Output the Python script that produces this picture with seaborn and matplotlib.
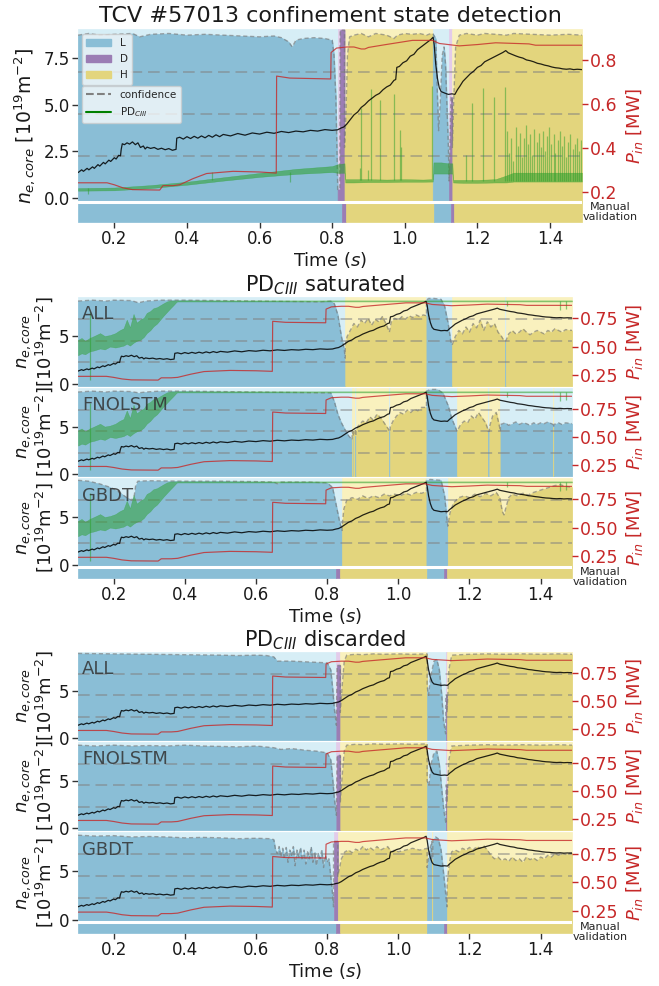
import numpy as np
import pandas as pd
import matplotlib
matplotlib.use("Agg")
import matplotlib.pyplot as plt
import seaborn as sns
from matplotlib.patches import Patch
from matplotlib.lines import Line2D

# ---------------- data ----------------
xticks = [0.2, 0.4, 0.6, 0.8, 1.0, 1.2, 1.4]
model_names = ["ALL", "FNOLSTM", "GBDT"]

ne_t = [0.100, 0.110, 0.115, 0.125, 0.130, 0.140, 0.145, 0.155, 0.160, 0.170, 0.175, 0.185, 0.190, 0.200,
        0.205, 0.212, 0.217, 0.219, 0.222, 0.228, 0.235, 0.242, 0.250, 0.258, 0.265, 0.272, 0.280, 0.285,
        0.290, 0.300, 0.310, 0.320, 0.330, 0.340, 0.350, 0.360, 0.370, 0.372, 0.380, 0.390, 0.400, 0.410,
        0.420, 0.430, 0.440, 0.450, 0.460, 0.470, 0.480, 0.490, 0.500, 0.520, 0.540, 0.560, 0.580, 0.600,
        0.620, 0.640, 0.660, 0.680, 0.700, 0.720, 0.740, 0.760, 0.780, 0.800, 0.815, 0.825, 0.832, 0.840,
        0.850, 0.860, 0.870, 0.880, 0.890, 0.900, 0.910, 0.920, 0.930, 0.940, 0.950, 0.960, 0.970, 0.975,
        0.978, 0.985, 0.995, 1.005, 1.015, 1.025, 1.035, 1.045, 1.055, 1.065, 1.072, 1.078, 1.081, 1.085,
        1.090, 1.095, 1.100, 1.110, 1.120, 1.130, 1.138, 1.145, 1.152, 1.160, 1.170, 1.180, 1.190, 1.200,
        1.210, 1.220, 1.230, 1.240, 1.250, 1.260, 1.270, 1.278, 1.285, 1.295, 1.305, 1.315, 1.325, 1.335,
        1.345, 1.355, 1.365, 1.375, 1.385, 1.395, 1.405, 1.415, 1.425, 1.435, 1.445, 1.455, 1.465, 1.475,
        1.488]
ne_v = [1.35, 1.50, 1.42, 1.58, 1.50, 1.66, 1.58, 1.78, 1.70, 1.90, 1.82, 2.02, 1.95, 2.15,
        2.08, 2.28, 2.25, 2.60, 2.90, 2.85, 2.95, 2.88, 3.00, 2.85, 2.95, 2.70, 2.78, 2.62,
        2.72, 2.65, 2.70, 2.60, 2.66, 2.58, 2.64, 2.55, 2.60, 3.20, 3.25, 3.15, 3.28, 3.18,
        3.30, 3.20, 3.32, 3.22, 3.35, 3.25, 3.38, 3.28, 3.40, 3.32, 3.45, 3.36, 3.48, 3.42,
        3.52, 3.46, 3.56, 3.50, 3.58, 3.54, 3.62, 3.58, 3.66, 3.62, 3.65, 3.75, 3.80, 3.95,
        4.20, 4.45, 4.60, 4.85, 5.00, 5.20, 5.35, 5.50, 5.60, 5.80, 5.95, 6.05, 6.30, 6.35,
        7.00, 7.05, 7.25, 7.35, 7.60, 7.70, 7.95, 8.10, 8.25, 8.40, 8.50, 8.62, 8.20, 7.20,
        6.40, 5.90, 5.70, 5.62, 5.55, 5.58, 5.55, 5.80, 6.00, 6.25, 6.45, 6.65, 6.80, 7.00,
        7.10, 7.30, 7.40, 7.50, 7.60, 7.70, 7.80, 7.90, 7.78, 7.70, 7.62, 7.55, 7.50, 7.40,
        7.36, 7.30, 7.22, 7.18, 7.12, 7.08, 7.02, 6.98, 6.96, 6.92, 6.90, 6.92, 6.88, 6.90,
        6.88]

pin_t = [0.100, 0.180, 0.200, 0.224, 0.250, 0.325, 0.334, 0.362, 0.380, 0.417, 0.454, 0.527, 0.600, 0.646,
         0.647, 0.683, 0.796, 0.797, 0.812, 0.840, 0.860, 0.880, 0.890, 0.900, 0.948, 1.021, 1.076, 1.095,
         1.150, 1.200, 1.250, 1.342, 1.360, 1.488]
pin_v = [0.241, 0.241, 0.232, 0.218, 0.210, 0.208, 0.228, 0.228, 0.232, 0.260, 0.283, 0.293, 0.290, 0.285,
         0.725, 0.716, 0.712, 0.832, 0.852, 0.857, 0.857, 0.848, 0.848, 0.855, 0.868, 0.887, 0.887, 0.873,
         0.862, 0.868, 0.876, 0.871, 0.865, 0.865]

# PD_CIII (normal), band edges and spikes (in n_e axis units)
pd_band_t = [0.100, 0.200, 0.300, 0.400, 0.500, 0.600, 0.700, 0.800, 0.815, 0.834, 0.836, 0.860, 0.900,
             0.950, 1.000, 1.050, 1.077, 1.079, 1.100, 1.120, 1.131, 1.133, 1.160, 1.200, 1.250, 1.280,
             1.300, 1.350, 1.400, 1.450, 1.488]
pd_band_lo = [0.38, 0.40, 0.52, 0.70, 0.92, 1.12, 1.28, 1.38, 1.34, 1.34, 0.82, 0.82, 0.84,
              0.84, 0.86, 0.86, 0.87, 1.30, 1.30, 1.30, 1.30, 0.82, 0.80, 0.80, 0.82, 0.82,
              0.87, 0.87, 0.87, 0.87, 0.87]
pd_band_hi = [0.52, 0.55, 0.68, 0.86, 1.10, 1.33, 1.55, 1.70, 1.80, 1.85, 1.00, 1.00, 1.00,
              0.98, 1.00, 0.98, 1.00, 1.90, 1.90, 1.85, 1.85, 0.96, 0.96, 0.96, 1.00, 1.20,
              1.35, 1.35, 1.35, 1.35, 1.35]
pd_spike_t = [0.128, 0.470, 0.683, 0.876, 0.878, 0.900, 0.907, 0.933, 0.970, 0.987, 0.990, 1.076,
              1.168, 1.186, 1.214, 1.245, 1.276,
              1.282, 1.288, 1.293, 1.299, 1.305, 1.311, 1.317, 1.322, 1.328, 1.334, 1.340, 1.346,
              1.351, 1.357, 1.363, 1.369, 1.375, 1.381, 1.386, 1.392, 1.398, 1.404, 1.410, 1.415,
              1.421, 1.427, 1.433, 1.439, 1.444, 1.450, 1.456, 1.462, 1.468, 1.474, 1.480, 1.486]
pd_spike_lo = [0.20, 0.95, 0.87, 0.95, 0.95, 0.95, 0.95, 0.95, 0.95, 0.95, 0.95, 1.00,
               0.90, 0.90, 0.90, 0.90, 0.90,
               0.90, 0.90, 0.90, 0.90, 0.90, 0.90, 0.90, 0.90, 0.90, 0.90, 0.90, 0.90,
               0.90, 0.90, 0.90, 0.90, 0.90, 0.90, 0.90, 0.90, 0.90, 0.90, 0.90, 0.90,
               0.90, 0.90, 0.90, 0.90, 0.90, 0.90, 0.90, 0.90, 0.90, 0.90, 0.90, 0.90]
pd_spike_hi = [0.50, 1.40, 1.40, 1.60, 4.80, 1.50, 5.85, 5.23, 5.59, 3.64, 2.75, 6.00,
               2.30, 5.07, 5.89, 5.43, 5.96,
               3.60, 2.40, 3.20, 2.00, 3.80, 2.80, 3.50, 2.20, 3.20, 3.90, 2.90, 3.40,
               2.30, 3.70, 3.00, 3.50, 2.70, 3.60, 2.50, 3.30, 3.80, 2.90, 3.40, 2.40,
               3.10, 3.60, 2.80, 3.30, 2.20, 3.00, 3.40, 2.60, 2.90, 3.20, 2.50, 3.10]

# PD_CIII saturated
pds_t = [0.100, 0.110, 0.120, 0.133, 0.145, 0.162, 0.175, 0.190, 0.205, 0.217, 0.228, 0.237, 0.246,
         0.256, 0.265, 0.275, 0.285, 0.293, 0.303, 0.312, 0.322, 0.331, 0.340, 0.350, 0.360, 0.368,
         0.377, 0.380, 1.488]
pds_lo = [3.0, 3.2, 3.1, 3.4, 3.5, 3.7, 3.6, 3.9, 3.8, 3.9, 4.0, 4.2, 4.0,
          4.3, 4.5, 4.6, 4.9, 5.3, 5.6, 6.0, 6.3, 6.7, 7.1, 7.5, 7.9, 8.2,
          8.57, 8.59, 8.59]
pds_hi = [4.6, 4.8, 4.5, 4.8, 5.0, 5.3, 5.0, 5.1, 5.3, 5.6, 5.8, 6.7, 5.9,
          7.3, 6.4, 6.7, 6.9, 7.4, 7.6, 7.9, 8.0, 8.2, 8.4, 8.6, 8.7, 8.7,
          8.71, 8.71, 8.71]
pds_spike_t = [0.133, 1.306, 1.454, 1.471]
pds_spike_lo = [0.40, 8.10, 7.70, 7.80]
pds_spike_hi = [7.50, 8.65, 8.65, 8.65]

# manual validation labels
man_edges = [0.100, 0.826, 0.837, 1.080, 1.127, 1.136, 1.488]
man_states = ["L", "D", "H", "L", "D", "H"]

# confidence per panel (time, confidence, predicted state)
top_t = [0.10, 0.13, 0.16, 0.20, 0.25, 0.27, 0.30, 0.35, 0.40, 0.45, 0.50, 0.55, 0.60, 0.64, 0.66, 0.68,
         0.69, 0.70, 0.72, 0.75, 0.78, 0.80, 0.805, 0.81, 0.813, 0.815,
         0.815, 0.821, 0.822, 0.834,
         0.834, 0.838, 0.842, 0.848, 0.86, 0.88, 0.90, 0.92, 0.95, 0.97, 0.98, 1.00, 1.02, 1.04, 1.06, 1.072, 1.077,
         1.077, 1.085, 1.09, 1.093, 1.097, 1.103, 1.108, 1.112, 1.116, 1.12, 1.122,
         1.122, 1.127, 1.131,
         1.131, 1.135, 1.14, 1.15, 1.17, 1.20, 1.22, 1.25, 1.28, 1.30, 1.35, 1.40, 1.45, 1.488]
top_c = [0.97, 0.98, 0.97, 0.975, 0.98, 0.96, 0.975, 0.98, 0.97, 0.975, 0.97, 0.965, 0.96, 0.965, 0.955, 0.93,
         0.90, 0.94, 0.95, 0.955, 0.95, 0.94, 0.85, 0.60, 0.30, 0.08,
         0.05, 0.05, 1.0, 1.0,
         0.30, 0.50, 0.85, 0.96, 0.97, 0.98, 0.96, 0.98, 0.97, 0.95, 0.97, 0.98, 0.975, 0.98, 0.97, 0.98, 0.98,
         0.98, 0.95, 0.60, 0.40, 0.55, 0.85, 0.90, 0.80, 0.55, 0.30, 0.10,
         0.10, 0.60, 0.60,
         0.30, 0.60, 0.90, 0.97, 0.98, 0.97, 0.98, 0.975, 0.97, 0.98, 0.975, 0.97, 0.975, 0.97]
top_s = ["L"] * 26 + ["D"] * 4 + ["H"] * 17 + ["L"] * 11 + ["D"] * 3 + ["H"] * 14

sa_t = [0.10, 0.14, 0.18, 0.20, 0.25, 0.27, 0.29, 0.33, 0.40, 0.50, 0.60, 0.70, 0.78, 0.81, 0.82, 0.83,
        0.84, 0.848, 0.851,
        0.851, 0.856, 0.865, 0.875, 0.885, 0.895, 0.905, 0.915, 0.925, 0.935, 0.945, 0.955, 0.965, 0.975,
        0.98, 0.99, 1.00, 1.01, 1.02, 1.03, 1.04, 1.05, 1.06, 1.07, 1.079,
        1.079, 1.085, 1.10, 1.12, 1.13, 1.14, 1.147, 1.151,
        1.151, 1.16, 1.17, 1.18, 1.19, 1.20, 1.21, 1.22, 1.23, 1.24, 1.25, 1.26, 1.27, 1.28, 1.29, 1.297, 1.299,
        1.299, 1.302,
        1.302, 1.31, 1.32, 1.33, 1.34, 1.35, 1.36, 1.37, 1.38, 1.39, 1.40, 1.41, 1.42, 1.43, 1.44, 1.45,
        1.46, 1.47, 1.488]
sa_c = [0.96, 0.97, 0.96, 0.97, 0.965, 0.94, 0.96, 0.97, 0.97, 0.965, 0.96, 0.955, 0.95, 0.96, 0.93, 0.80,
        0.55, 0.40, 0.30,
        0.45, 0.55, 0.62, 0.70, 0.66, 0.74, 0.70, 0.76, 0.68, 0.75, 0.72, 0.78, 0.70, 0.60,
        0.72, 0.76, 0.74, 0.78, 0.75, 0.79, 0.77, 0.80, 0.78, 0.80, 0.79,
        0.97, 0.99, 0.99, 0.98, 0.90, 0.70, 0.50, 0.45,
        0.45, 0.55, 0.62, 0.58, 0.66, 0.60, 0.70, 0.65, 0.74, 0.62, 0.72, 0.66, 0.70, 0.60, 0.55, 0.50, 0.50,
        0.50, 0.50,
        0.50, 0.58, 0.62, 0.58, 0.60, 0.64, 0.60, 0.57, 0.60, 0.62, 0.60, 0.58, 0.62, 0.60, 0.64, 0.62,
        0.60, 0.63, 0.62]
sa_s = ["L"] * 19 + ["H"] * 25 + ["L"] * 8 + ["H"] * 17 + ["L"] * 2 + ["H"] * 19

sf_t = [0.10, 0.14, 0.18, 0.20, 0.25, 0.27, 0.29, 0.33, 0.40, 0.50, 0.60, 0.70, 0.78, 0.81, 0.82, 0.83,
        0.84, 0.85, 0.86, 0.87,
        0.87, 0.872,
        0.872, 0.874,
        0.874, 0.879,
        0.879, 0.881,
        0.881, 0.89, 0.90, 0.91, 0.92, 0.93, 0.94, 0.95, 0.96, 0.968, 0.973,
        0.973, 0.977,
        0.977, 0.985, 0.995, 1.005, 1.015, 1.025, 1.035, 1.045, 1.055, 1.065, 1.079,
        1.079, 1.09, 1.11, 1.125, 1.14, 1.15, 1.16, 1.165,
        1.165, 1.175, 1.185, 1.195, 1.205, 1.215, 1.225, 1.235, 1.245, 1.252,
        1.252, 1.256,
        1.256, 1.265, 1.275, 1.282, 1.287,
        1.287, 1.30, 1.31, 1.32, 1.33, 1.34, 1.35, 1.36, 1.37, 1.38, 1.39, 1.40, 1.41, 1.42, 1.435,
        1.435, 1.437,
        1.437, 1.45, 1.46, 1.47, 1.488]
sf_c = [0.96, 0.97, 0.96, 0.97, 0.965, 0.95, 0.96, 0.97, 0.97, 0.965, 0.96, 0.955, 0.95, 0.95, 0.85, 0.70,
        0.60, 0.52, 0.45, 0.40,
        0.50, 0.50,
        0.45, 0.45,
        0.50, 0.52,
        0.45, 0.45,
        0.52, 0.58, 0.62, 0.60, 0.67, 0.63, 0.70, 0.66, 0.60, 0.55, 0.52,
        0.50, 0.50,
        0.55, 0.62, 0.68, 0.72, 0.70, 0.75, 0.72, 0.76, 0.74, 0.78, 0.78,
        0.97, 0.99, 0.99, 0.95, 0.80, 0.65, 0.55, 0.50,
        0.50, 0.58, 0.62, 0.60, 0.68, 0.64, 0.72, 0.66, 0.60, 0.52,
        0.50, 0.50,
        0.55, 0.68, 0.72, 0.60, 0.50,
        0.58, 0.60, 0.57, 0.59, 0.61, 0.58, 0.60, 0.59, 0.57, 0.60, 0.58, 0.60, 0.59, 0.61, 0.58,
        0.55, 0.55,
        0.58, 0.60, 0.58, 0.60, 0.59]
sf_s = (["L"] * 20 + ["H"] * 2 + ["L"] * 2 + ["H"] * 2 + ["L"] * 2 + ["H"] * 11 + ["L"] * 2 + ["H"] * 11
        + ["L"] * 8 + ["H"] * 10 + ["L"] * 2 + ["H"] * 5 + ["L"] * 15 + ["H"] * 2 + ["L"] * 5)

sg_t = [0.10, 0.13, 0.16, 0.19, 0.21, 0.237, 0.25, 0.258, 0.262, 0.268, 0.30, 0.40, 0.50, 0.60, 0.65,
        0.66, 0.67, 0.75, 0.80, 0.815, 0.825, 0.835, 0.842,
        0.842, 0.847, 0.855, 0.87, 0.885, 0.90, 0.915, 0.93, 0.945, 0.96, 0.975, 0.99, 1.005, 1.02, 1.035,
        1.05, 1.065, 1.079,
        1.079, 1.09, 1.12, 1.13, 1.136, 1.139,
        1.139, 1.145, 1.155, 1.17, 1.185, 1.20, 1.215, 1.23, 1.245, 1.26, 1.275, 1.285, 1.292, 1.297,
        1.302, 1.31, 1.32, 1.335, 1.35, 1.365, 1.38, 1.395, 1.41, 1.425, 1.44, 1.455, 1.47, 1.488]
sg_c = [0.98, 0.97, 0.94, 0.90, 0.86, 0.78, 0.75, 0.80, 0.92, 0.97, 0.975, 0.97, 0.97, 0.965, 0.96,
        0.94, 0.96, 0.96, 0.95, 0.90, 0.70, 0.50, 0.40,
        0.45, 0.65, 0.75, 0.78, 0.76, 0.80, 0.77, 0.80, 0.78, 0.82, 0.80, 0.82, 0.80, 0.83, 0.81,
        0.84, 0.83, 0.85,
        0.98, 0.99, 0.98, 0.80, 0.55, 0.45,
        0.45, 0.60, 0.72, 0.78, 0.80, 0.78, 0.82, 0.79, 0.83, 0.80, 0.84, 0.78, 0.62, 0.58,
        0.66, 0.78, 0.82, 0.80, 0.83, 0.81, 0.84, 0.86, 0.88, 0.90, 0.92, 0.93, 0.91, 0.90]
sg_s = ["L"] * 23 + ["H"] * 18 + ["L"] * 6 + ["H"] * 28

da_t = [0.10, 0.20, 0.30, 0.40, 0.50, 0.55, 0.60, 0.63, 0.65, 0.66, 0.70, 0.75, 0.80, 0.81, 0.815, 0.82,
        0.826,
        0.826, 0.828, 0.837,
        0.837, 0.842, 0.848, 0.855, 0.88, 0.90, 0.93, 0.96, 1.00, 1.04, 1.081,
        1.081, 1.085, 1.09, 1.10, 1.108, 1.115, 1.122, 1.127, 1.133,
        1.133, 1.137,
        1.137, 1.142, 1.15, 1.20, 1.25, 1.30, 1.35, 1.40, 1.45, 1.488]
da_c = [0.99, 0.985, 0.98, 0.975, 0.97, 0.965, 0.97, 0.965, 0.95, 0.90, 0.90, 0.89, 0.88, 0.80, 0.60, 0.35,
        0.15,
        0.20, 0.85, 0.85,
        0.30, 0.60, 0.90, 0.97, 0.98, 0.975, 0.985, 0.98, 0.985, 0.98, 0.985,
        0.60, 0.50, 0.70, 0.90, 0.92, 0.80, 0.50, 0.20, 0.05,
        0.50, 0.50,
        0.30, 0.80, 0.97, 0.98, 0.985, 0.98, 0.985, 0.98, 0.985, 0.98]
da_s = ["L"] * 17 + ["D"] * 3 + ["H"] * 11 + ["L"] * 9 + ["D"] * 2 + ["H"] * 10

df_t = [0.10, 0.15, 0.20, 0.25, 0.30, 0.35, 0.40, 0.45, 0.50, 0.55, 0.60, 0.65, 0.67, 0.70, 0.74, 0.77,
        0.80, 0.81, 0.815, 0.82, 0.826,
        0.826, 0.828, 0.837,
        0.837, 0.842, 0.848, 0.855, 0.88, 0.90, 0.93, 0.96, 1.00, 1.04, 1.081,
        1.081, 1.086, 1.092, 1.10, 1.108, 1.115, 1.122, 1.128, 1.134,
        1.134, 1.137,
        1.137, 1.142, 1.15, 1.20, 1.25, 1.30, 1.35, 1.40, 1.45, 1.488]
df_c = [0.97, 0.96, 0.97, 0.96, 0.965, 0.96, 0.97, 0.96, 0.955, 0.95, 0.96, 0.94, 0.92, 0.93, 0.91, 0.90,
        0.88, 0.80, 0.60, 0.35, 0.15,
        0.20, 0.85, 0.85,
        0.30, 0.60, 0.90, 0.97, 0.98, 0.975, 0.985, 0.98, 0.985, 0.98, 0.985,
        0.55, 0.50, 0.75, 0.88, 0.90, 0.75, 0.45, 0.20, 0.05,
        0.50, 0.50,
        0.30, 0.80, 0.96, 0.97, 0.975, 0.97, 0.975, 0.97, 0.975, 0.97]
df_s = ["L"] * 21 + ["D"] * 3 + ["H"] * 11 + ["L"] * 9 + ["D"] * 2 + ["H"] * 10

dg_t = [0.10, 0.15, 0.20, 0.25, 0.30, 0.35, 0.40, 0.45, 0.50, 0.55, 0.60, 0.64, 0.65, 0.655, 0.66, 0.665,
        0.67, 0.675, 0.68, 0.685, 0.69, 0.695, 0.70, 0.705, 0.71, 0.715, 0.72, 0.725, 0.73, 0.735, 0.74,
        0.745, 0.75, 0.755, 0.76, 0.765, 0.77, 0.775, 0.78, 0.785, 0.79, 0.795, 0.80, 0.805, 0.81, 0.815,
        0.818,
        0.818, 0.83,
        0.83, 0.84, 0.85, 0.86, 0.87, 0.88, 0.89, 0.90, 0.91, 0.92, 0.93, 0.94, 0.95, 0.96, 0.97, 0.98,
        0.99, 1.00, 1.02, 1.04, 1.06, 1.081,
        1.081, 1.088, 1.094,
        1.094, 1.097,
        1.097, 1.105, 1.112, 1.12, 1.128, 1.133, 1.137,
        1.137, 1.143, 1.15, 1.16, 1.17, 1.18, 1.19, 1.20, 1.21, 1.22, 1.23, 1.24, 1.25, 1.26, 1.27, 1.28,
        1.29, 1.30, 1.31, 1.32, 1.33, 1.34, 1.35, 1.36, 1.37, 1.38, 1.39, 1.40, 1.41, 1.42, 1.43, 1.44,
        1.45, 1.46, 1.47, 1.488]
dg_c = [0.97, 0.96, 0.965, 0.95, 0.955, 0.95, 0.94, 0.945, 0.94, 0.93, 0.935, 0.93, 0.92, 0.80, 0.76, 0.84,
        0.72, 0.82, 0.70, 0.83, 0.66, 0.80, 0.74, 0.84, 0.62, 0.80, 0.72, 0.83, 0.68, 0.80, 0.64,
        0.78, 0.70, 0.84, 0.66, 0.78, 0.62, 0.76, 0.70, 0.80, 0.60, 0.74, 0.66, 0.70, 0.50, 0.30,
        0.15,
        0.90, 0.90,
        0.50, 0.70, 0.78, 0.80, 0.77, 0.81, 0.79, 0.84, 0.80, 0.83, 0.80, 0.84, 0.80, 0.82, 0.84, 0.78,
        0.80, 0.78, 0.80, 0.82, 0.80, 0.82,
        0.60, 0.80, 0.90,
        0.70, 0.70,
        0.92, 0.95, 0.93, 0.80, 0.50, 0.30, 0.15,
        0.40, 0.65, 0.78, 0.80, 0.78, 0.82, 0.80, 0.83, 0.80, 0.84, 0.82, 0.85, 0.80, 0.74, 0.70, 0.72,
        0.68, 0.70, 0.67, 0.72, 0.68, 0.70, 0.66, 0.72, 0.69, 0.71, 0.68, 0.72, 0.70, 0.74, 0.72, 0.76,
        0.74, 0.76, 0.75, 0.77]
dg_s = ["L"] * 47 + ["D"] * 2 + ["H"] * 22 + ["L"] * 3 + ["H"] * 2 + ["L"] * 7 + ["H"] * 36

for _t, _c, _s in [(top_t, top_c, top_s), (sa_t, sa_c, sa_s), (sf_t, sf_c, sf_s), (sg_t, sg_c, sg_s),
                   (da_t, da_c, da_s), (df_t, df_c, df_s), (dg_t, dg_c, dg_s)]:
    assert len(_t) == len(_c) == len(_s), (len(_t), len(_c), len(_s))
assert len(ne_t) == len(ne_v) and len(pin_t) == len(pin_v)
assert len(pd_band_t) == len(pd_band_lo) == len(pd_band_hi)
assert len(pd_spike_t) == len(pd_spike_lo) == len(pd_spike_hi)
assert len(pds_t) == len(pds_lo) == len(pds_hi)

# ---------------- style ----------------
DARK = {"L": "#8ABED6", "D": "#9B7DB4", "H": "#E3D57D"}
LIGHT = {"L": "#D7EEF6", "D": "#E3CBEA", "H": "#F9F1BE"}
RED = "#C62828"
PDC = "#2CA02C"
CONF_SCALE = 9.0
YTOP = 9.06
XLIM = (0.1, 1.488)

sns.set_theme(style="white")
plt.rcParams["font.family"] = ["DejaVu Sans"]
plt.rcParams["mathtext.fontset"] = "dejavusans"

W, H = 659, 986
fig = plt.figure(figsize=(W / 100, H / 100), dpi=100)


def add_ax(l, r, t, b):
    return fig.add_axes([l / W, 1 - b / H, (r - l) / W, (b - t) / H])


def runs(states):
    out, i = [], 0
    while i < len(states):
        j = i
        while j + 1 < len(states) and states[j + 1] == states[i]:
            j += 1
        out.append((i, j, states[i]))
        i = j + 1
    return out


def draw_panel(ax, ct, cc, cs, ylo, strip, pd_mode, pin_ticks, label=None, xlabels=True, text_y=None):
    ct = np.asarray(ct)
    cc = np.asarray(cc) * CONF_SCALE
    base = -0.2 if strip else ylo
    rr = runs(cs)
    for i, j, st in rr:
        ax.fill_between(ct[i:j + 1], base, YTOP, color=LIGHT[st], edgecolor=LIGHT[st], lw=0.5, zorder=1)
    for i, j, st in rr:
        ax.fill_between(ct[i:j + 1], base, cc[i:j + 1], color=DARK[st], edgecolor=DARK[st], lw=0.5, zorder=2)
    ax.plot(ct, cc, ls=(0, (3, 2)), color="0.45", alpha=0.6, lw=1.0, zorder=3)
    for lvl in (0.25, 0.5, 0.75):
        ax.axhline(lvl * CONF_SCALE, color="0.5", alpha=0.5, ls=(0, (6, 3)), lw=1.4, zorder=3)
    if strip:
        for k, st in enumerate(man_states):
            ax.fill_between([man_edges[k], man_edges[k + 1]], ylo, -0.2, color=DARK[st],
                            edgecolor=DARK[st], lw=0.5, zorder=2)
        ax.axhline(-0.2, color="white", lw=2.2, zorder=6)
        ax.annotate("Manual\nvalidation", xy=(1.0, text_y), xycoords=("axes fraction", "data"),
                    xytext=(20, 0), textcoords="offset points", ha="center", va="center",
                    fontsize=8, color="0.15", annotation_clip=False, linespacing=1.0)
    # PD_CIII
    if pd_mode == "normal":
        ax.fill_between(pd_band_t, pd_band_lo, pd_band_hi, color=PDC, alpha=0.55, lw=0.3,
                        edgecolor=PDC, zorder=4)
        ax.vlines(pd_spike_t, pd_spike_lo, pd_spike_hi, color=PDC, alpha=0.5, lw=0.9, zorder=4)
    elif pd_mode == "sat":
        ax.fill_between(pds_t, pds_lo, pds_hi, color=PDC, alpha=0.5, lw=0.3,
                        edgecolor=PDC, zorder=4)
        ax.vlines(pds_spike_t, pds_spike_lo, pds_spike_hi, color=PDC, alpha=0.55, lw=0.9, zorder=4)
    # density
    dfn = pd.DataFrame({"t": ne_t, "ne": ne_v})
    sns.lineplot(data=dfn, x="t", y="ne", ax=ax, color="black", lw=0.9, alpha=0.85,
                 estimator=None, sort=False, zorder=5)
    ax.set_xlim(*XLIM)
    ax.set_ylim(ylo, YTOP)
    ax.set_xticks(xticks)
    for sp in ax.spines.values():
        sp.set_visible(False)
    ax.tick_params(axis="y", left=True, length=4, width=1, color="0.2", labelsize=12, pad=2,
                   labelcolor="0.1")
    if xlabels:
        ax.tick_params(axis="x", bottom=True, length=4, width=1, color="0.2", labelsize=12, pad=2,
                       labelcolor="0.1")
        ax.set_xticklabels([f"{v:.1f}" for v in xticks])
        ax.set_xlabel("Time ($s$)", fontsize=13, labelpad=1, color="0.1")
    else:
        ax.tick_params(axis="x", bottom=False, labelbottom=False)
        ax.set_xlabel("")
    if label:
        ax.text(0.008, 0.91, label, transform=ax.transAxes, fontsize=13, color="0.2", alpha=0.85,
                va="top", ha="left", zorder=7)
    # power
    axr = ax.twinx()
    dfp = pd.DataFrame({"t": pin_t, "p": pin_v})
    sns.lineplot(data=dfp, x="t", y="p", ax=axr, color=RED, lw=0.85, alpha=0.8,
                 estimator=None, sort=False)
    axr.set_ylim(0.173 + 0.0845 * ylo, 0.173 + 0.0845 * YTOP)
    axr.set_xlim(*XLIM)
    axr.set_yticks(pin_ticks)
    for sp in axr.spines.values():
        sp.set_visible(False)
    axr.tick_params(axis="y", right=True, length=4, width=1, colors=RED, labelsize=12.5, pad=2)
    axr.set_ylabel("$P_{in}$ [MW]", color=RED, fontsize=13, labelpad=4)
    axr.set_xlabel("")
    return axr


# ---------------- top panel ----------------
ax0 = add_ax(78, 582, 29, 222)
draw_panel(ax0, top_t, top_c, top_s, -1.3, True, "normal", [0.2, 0.4, 0.6, 0.8], text_y=-0.75)
ax0.set_yticks([0.0, 2.5, 5.0, 7.5])
ax0.set_yticklabels(["0.0", "2.5", "5.0", "7.5"])
ax0.set_ylabel("$n_{e,core}$ [10$^{19}$m$^{-2}$]", fontsize=13.5, labelpad=4, color="0.1")
ax0.set_title("TCV #57013 confinement state detection", fontsize=16, pad=5, color="0.1")
leg1 = ax0.legend(handles=[Patch(color=DARK[k], label=k) for k in ("L", "D", "H")],
                  loc="upper left", bbox_to_anchor=(0.008, 0.975), borderaxespad=0, fontsize=7.5,
                  handlelength=2.4, labelspacing=0.6, frameon=True, framealpha=0.75, edgecolor="0.8",
                  fancybox=True)
ax0.add_artist(leg1)
ax0.legend(handles=[Line2D([], [], ls="--", color="gray", lw=1.5, label="confidence"),
                    Line2D([], [], color="green", lw=1.5, label="PD$_{CIII}$")],
           loc="upper left", bbox_to_anchor=(0.008, 0.705), borderaxespad=0, fontsize=7.5,
           handlelength=2.4, frameon=True, framealpha=0.75, edgecolor="0.8", fancybox=True)

# ---------------- grouped panels ----------------
groups = [
    ("PD$_{CIII}$ saturated", "sat", [(297, 386), (388, 476), (478, 578)],
     [(sa_t, sa_c, sa_s), (sf_t, sf_c, sf_s), (sg_t, sg_c, sg_s)]),
    ("PD$_{CIII}$ discarded", None, [(652, 740), (742, 830), (832, 933)],
     [(da_t, da_c, da_s), (df_t, df_c, df_s), (dg_t, dg_c, dg_s)]),
]
for title, pdm, rows, confs in groups:
    for k, ((t, b), (ct, cc, cs)) in enumerate(zip(rows, confs)):
        ax = add_ax(78, 572, t, b)
        last = k == 2
        ylo = -1.35 if last else -0.2
        draw_panel(ax, ct, cc, cs, ylo, last, pdm, [0.25, 0.5, 0.75], label=model_names[k],
                   xlabels=last, text_y=-1.25)
        ax.set_yticks([0, 5])
        ax.set_yticklabels(["0", "5"])
        ax.set_ylabel("$n_{e,core}$\n[10$^{19}$m$^{-2}$]", fontsize=13, labelpad=3, linespacing=1.0,
                      color="0.1")
        if k == 0:
            ax.set_title(title, fontsize=15, pad=3, color="0.1")

fig.savefig("out.png", dpi=100)
